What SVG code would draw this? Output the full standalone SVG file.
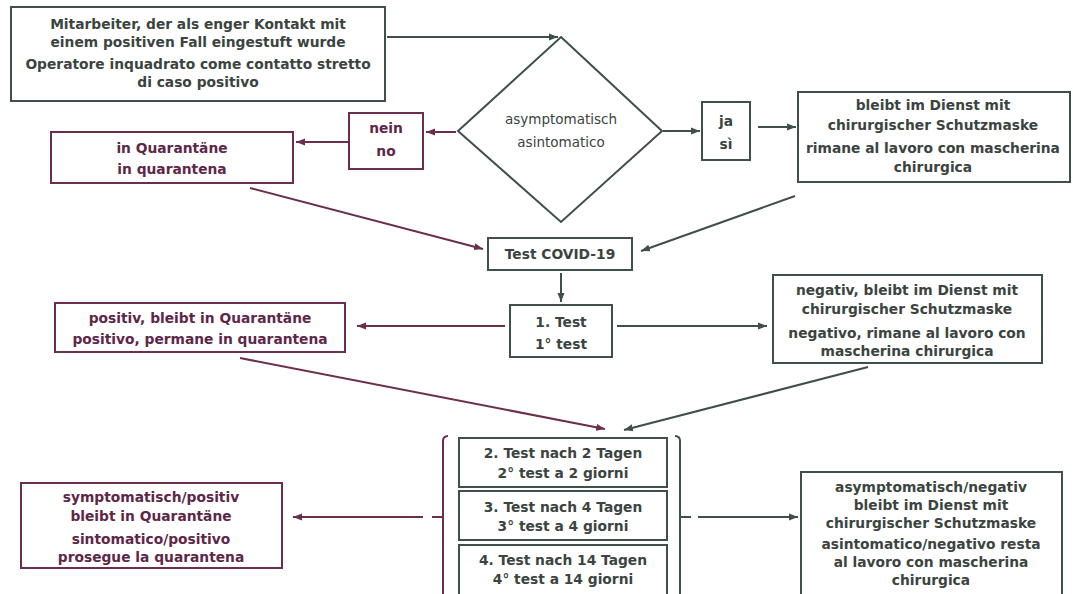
<svg xmlns="http://www.w3.org/2000/svg" width="1073" height="594" viewBox="0 0 1073 594">
<defs>
<marker id="ad" markerUnits="userSpaceOnUse" markerWidth="10" markerHeight="8" refX="9" refY="4" orient="auto"><path d="M0,0.5 L9,4 L0,7.5 Z" fill="#3f4f49"/></marker>
<marker id="ap" markerUnits="userSpaceOnUse" markerWidth="10" markerHeight="8" refX="9" refY="4" orient="auto"><path d="M0,0.5 L9,4 L0,7.5 Z" fill="#6b2e4e"/></marker>
</defs>
<style>
rect,polygon{fill:#fff;stroke-width:2}
.d rect,.d polygon{stroke:#3f4f49}
.p rect{stroke:#6b2e4e}
text{font-family:"DejaVu Sans",Verdana,sans-serif;font-size:13.8px;font-weight:bold;text-anchor:middle}
.d text{fill:#3b4440}
.p text{fill:#5e2747}
.n{font-weight:normal;font-size:13.5px}
.cd{stroke:#3f4f49;stroke-width:2;fill:none}
.cp{stroke:#6b2e4e;stroke-width:2;fill:none}
</style>
<rect x="0" y="0" width="1073" height="594" fill="#fff" stroke="none"/>
<g id="connectors">
<line class="cd" x1="387" y1="37" x2="558" y2="37" marker-end="url(#ad)"/>
<line class="cp" x1="456" y1="132" x2="426" y2="132" marker-end="url(#ap)"/>
<line class="cp" x1="349" y1="142" x2="296" y2="142" marker-end="url(#ap)"/>
<line class="cd" x1="663" y1="131" x2="700" y2="131" marker-end="url(#ad)"/>
<line class="cd" x1="758" y1="127" x2="796" y2="127" marker-end="url(#ad)"/>
<line class="cp" x1="250" y1="188" x2="483" y2="249" marker-end="url(#ap)"/>
<line class="cd" x1="795" y1="196" x2="641" y2="251" marker-end="url(#ad)"/>
<line class="cd" x1="561" y1="273" x2="561" y2="302" marker-end="url(#ad)"/>
<line class="cp" x1="505" y1="326" x2="357" y2="326" marker-end="url(#ap)"/>
<line class="cd" x1="617" y1="326" x2="767" y2="326" marker-end="url(#ad)"/>
<line class="cp" x1="240" y1="358" x2="605" y2="429" marker-end="url(#ap)"/>
<line class="cd" x1="868" y1="367" x2="624" y2="430" marker-end="url(#ad)"/>
<line class="cp" x1="423" y1="517" x2="293" y2="517" marker-end="url(#ap)"/>
<line class="cp" x1="432" y1="517" x2="443" y2="517"/>
<line class="cd" x1="680" y1="517" x2="691" y2="517"/>
<line class="cd" x1="698" y1="517" x2="798" y2="517" marker-end="url(#ad)"/>
<path class="cp" d="M448,436 Q443,436 443,441 V594"/>
<path class="cd" d="M675,436 Q680,436 680,441 V594"/>
</g>
<g id="contact" class="d">
<rect x="11" y="7" width="374" height="94"/>
<text x="198" y="29">Mitarbeiter, der als enger Kontakt mit</text>
<text x="198" y="47">einem positiven Fall eingestuft wurde</text>
<text x="198" y="69">Operatore inquadrato come contatto stretto</text>
<text x="198" y="87">di caso positivo</text>
</g>
<g id="decision" class="d">
<polygon points="561,37 662,131 561,222 458,131"/>
<text class="n" x="561" y="124">asymptomatisch</text>
<text class="n" x="561" y="147">asintomatico</text>
</g>
<g id="nein" class="p">
<rect x="349" y="113" width="74" height="56"/>
<text x="386" y="133">nein</text>
<text x="386" y="156">no</text>
</g>
<g id="quarantine" class="p">
<rect x="51" y="132" width="242" height="51"/>
<text x="172" y="153">in Quarantäne</text>
<text x="172" y="174">in quarantena</text>
</g>
<g id="ja" class="d">
<rect x="702" y="102" width="48" height="58"/>
<text x="726" y="126">ja</text>
<text x="726" y="149">sì</text>
</g>
<g id="stay" class="d">
<rect x="798" y="92" width="272" height="90"/>
<text x="933" y="110">bleibt im Dienst mit</text>
<text x="933" y="130">chirurgischer Schutzmaske</text>
<text x="933" y="153">rimane al lavoro con mascherina</text>
<text x="933" y="172">chirurgica</text>
</g>
<g id="covidtest" class="d">
<rect x="488" y="238" width="144" height="32"/>
<text x="560" y="259">Test COVID-19</text>
</g>
<g id="test1" class="d">
<rect x="510" y="305" width="102" height="52"/>
<text x="561" y="327">1. Test</text>
<text x="561" y="349">1° test</text>
</g>
<g id="positive" class="p">
<rect x="55" y="303" width="290" height="49"/>
<text x="200" y="323">positiv, bleibt in Quarantäne</text>
<text x="200" y="344">positivo, permane in quarantena</text>
</g>
<g id="negative" class="d">
<rect x="773" y="275" width="269" height="88"/>
<text x="907" y="295">negativ, bleibt im Dienst mit</text>
<text x="907" y="314">chirurgischer Schutzmaske</text>
<text x="907" y="338">negativo, rimane al lavoro con</text>
<text x="907" y="356">mascherina chirurgica</text>
</g>
<g id="test2" class="d">
<rect x="459" y="438" width="208" height="49"/>
<text x="563" y="458">2. Test nach 2 Tagen</text>
<text x="563" y="478">2° test a 2 giorni</text>
</g>
<g id="test3" class="d">
<rect x="459" y="491" width="208" height="49"/>
<text x="563" y="512">3. Test nach 4 Tagen</text>
<text x="563" y="531">3° test a 4 giorni</text>
</g>
<g id="test4" class="d">
<rect x="459" y="545" width="208" height="55"/>
<text x="563" y="565">4. Test nach 14 Tagen</text>
<text x="563" y="584">4° test a 14 giorni</text>
</g>
<g id="symptomatic" class="p">
<rect x="21" y="483" width="261" height="85"/>
<text x="151" y="502">symptomatisch/positiv</text>
<text x="151" y="521">bleibt in Quarantäne</text>
<text x="151" y="544">sintomatico/positivo</text>
<text x="151" y="562">prosegue la quarantena</text>
</g>
<g id="asymptomatic" class="d">
<rect x="801" y="472" width="261" height="130"/>
<text x="931" y="492">asymptomatisch/negativ</text>
<text x="931" y="510">bleibt im Dienst mit</text>
<text x="931" y="528">chirurgischer Schutzmaske</text>
<text x="931" y="549">asintomatico/negativo resta</text>
<text x="931" y="567">al lavoro con mascherina</text>
<text x="931" y="585">chirurgica</text>
</g>
</svg>
